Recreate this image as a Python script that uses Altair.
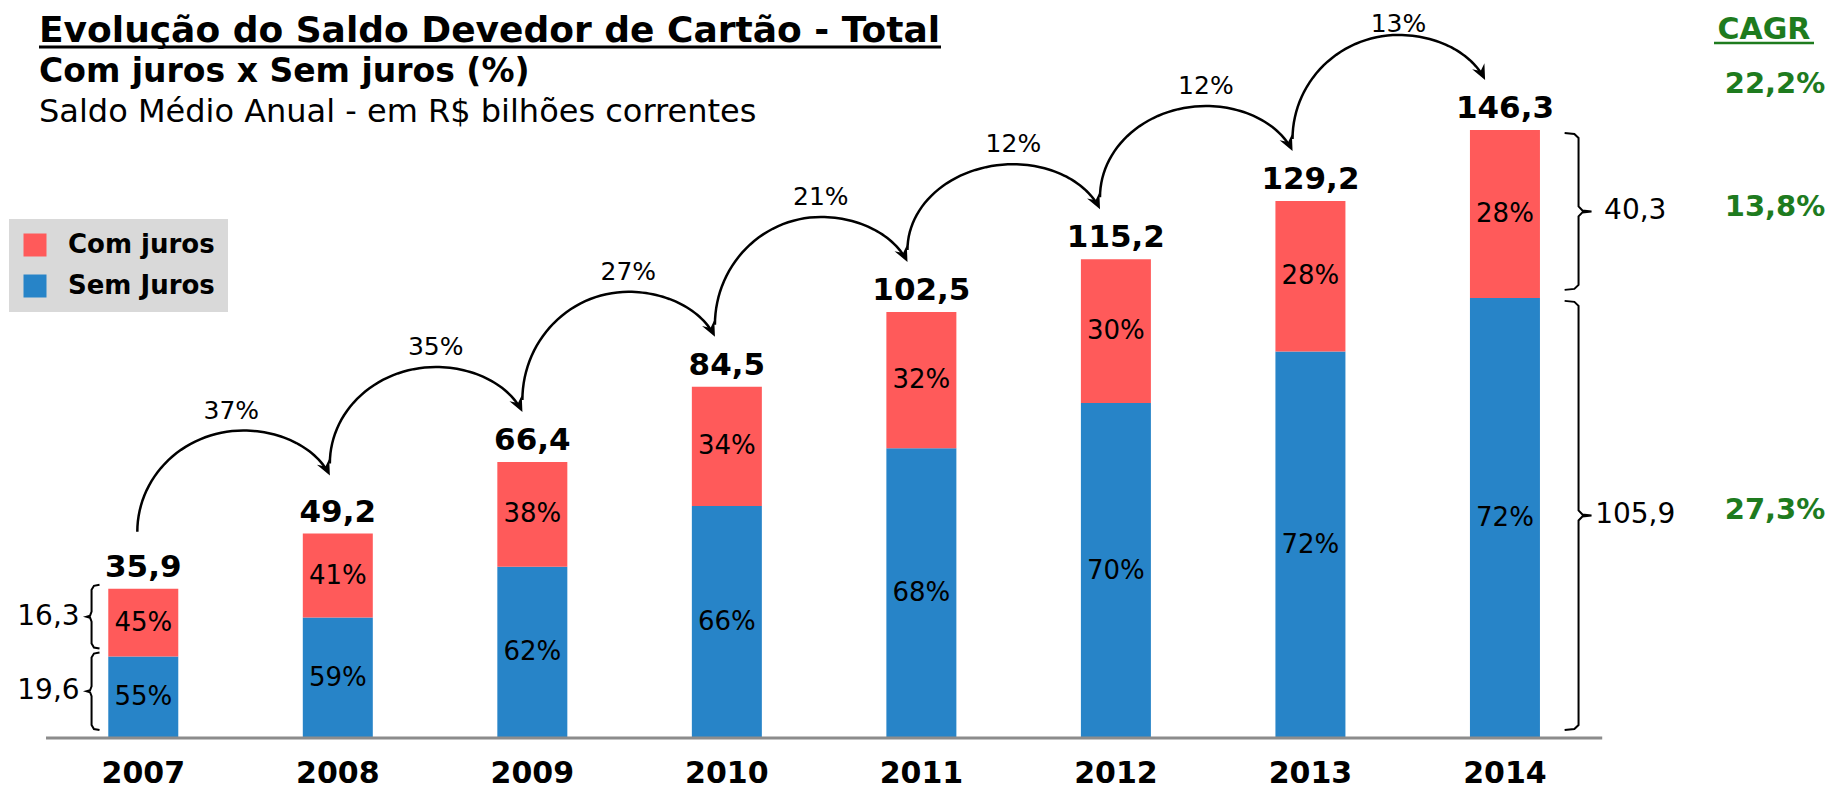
import math
import altair as alt
import pandas as pd

# ---------------- data ----------------
years = [2007, 2008, 2009, 2010, 2011, 2012, 2013, 2014]
totals = [35.9, 49.2, 66.4, 84.5, 102.5, 115.2, 129.2, 146.3]
total_labels = ["35,9", "49,2", "66,4", "84,5", "102,5", "115,2", "129,2", "146,3"]
sem_juros = [19.6, 29.0, 41.2, 55.8, 69.7, 80.6, 93.0, 105.9]
com_juros = [16.3, 20.2, 25.2, 28.7, 32.8, 34.6, 36.2, 40.4]
com_pct = [45, 41, 38, 34, 32, 30, 28, 28]
sem_pct = [55, 59, 62, 66, 68, 70, 72, 72]
growth = [37, 35, 27, 21, 12, 12, 13]
left_brace_labels = ["16,3", "19,6"]     # 2007: com juros, sem juros
right_brace_labels = ["40,3", "105,9"]   # 2014: com juros, sem juros
cagr_title = "CAGR"
cagr_labels = ["22,2%", "13,8%", "27,3%"]  # total, com juros, sem juros
series = ["Com juros", "Sem Juros"]

title = "Evolução do Saldo Devedor de Cartão - Total"
subtitle1 = "Com juros x Sem juros (%)"
subtitle2 = "Saldo Médio Anual - em R$ bilhões correntes"

RED = "#FF5A5A"
BLUE = "#2784C8"
GREEN = "#1E7B1E"
FONT = "DejaVu Sans"

# ---------------- layout (page pixels) ----------------
PAGE = 8
W, H = 1819, 783
X0_PX, DX_PX = 139.0, 195.6   # first bar centre, bar spacing
Y0_PX, DY_PX = 738.0, 4.156   # baseline, px per unit
XDOM = [years[0] + (PAGE - X0_PX) / DX_PX, years[0] + (PAGE + W - X0_PX) / DX_PX]
YDOM = [(Y0_PX - PAGE - H) / DY_PX, (Y0_PX - PAGE) / DY_PX]


def xp(v):
    return X0_PX + (v - years[0]) * DX_PX


def yp(v):
    return Y0_PX - v * DY_PX


def xv(px):
    return years[0] + (px - X0_PX) / DX_PX


def yv(py):
    return (Y0_PX - py) / DY_PX


XS = alt.Scale(domain=XDOM, nice=False, zero=False)
YS = alt.Scale(domain=YDOM, nice=False, zero=False)


def X(f):
    return alt.X(f, type="quantitative", scale=XS, axis=None)


def Y(f):
    return alt.Y(f, type="quantitative", scale=YS, axis=None)


# ---------------- bars ----------------
rows = []
for i, yr in enumerate(years):
    rows.append(dict(year=yr, serie="Sem Juros", lo=0.0, hi=sem_juros[i],
                     mid=sem_juros[i] / 2, pct=f"{sem_pct[i]}%"))
    rows.append(dict(year=yr, serie="Com juros", lo=sem_juros[i], hi=sem_juros[i] + com_juros[i],
                     mid=sem_juros[i] + com_juros[i] / 2, pct=f"{com_pct[i]}%"))
bars_df = pd.DataFrame(rows)

bars = alt.Chart(bars_df).mark_bar(size=70).encode(
    x=X("year"), y=Y("lo"), y2=alt.Y2("hi"),
    color=alt.Color("serie:N", scale=alt.Scale(domain=series, range=[RED, BLUE]),
                    legend=alt.Legend(title=None, orient="none", legendX=1, legendY=211,
                                      fillColor="#D9D9D9", padding=13, symbolType="square",
                                      symbolSize=529, symbolStrokeWidth=0, symbolOpacity=1,
                                      labelFont=FONT, labelFontSize=26, labelFontWeight="bold",
                                      labelColor="black", rowPadding=15, labelOffset=20,
                                      labelLimit=400)),
)

pct_text = alt.Chart(bars_df).mark_text(font=FONT, fontSize=26, color="black").encode(
    x=X("year"), y=Y("mid"), text="pct:N")

tot_df = pd.DataFrame(dict(year=years, total=totals, label=total_labels))
tot_text = alt.Chart(tot_df).mark_text(font=FONT, fontSize=31, fontWeight="bold", color="black",
                                       baseline="alphabetic", dy=-12).encode(
    x=X("year"), y=Y("total"), text="label:N")

year_text = alt.Chart(tot_df).mark_text(font=FONT, fontSize=30, fontWeight="bold", color="black",
                                        baseline="middle").encode(
    x=X("year"), y=alt.value(766), text=alt.Text("year:N"))

base_df = pd.DataFrame(dict(a=[years[0] - 0.5], b=[years[-1] + 0.5], z=[0.0]))
baseline = alt.Chart(base_df).mark_rule(color="#8C8C8C", strokeWidth=3).encode(
    x=X("a"), x2=alt.X2("b"), y=Y("z"))

# ---------------- growth arrows ----------------
S_END = math.radians(70)
HEAD_SIZE = 360
HEAD_PATH = "M0,1 L-0.72,-0.62 L0,-0.05 L0.72,-0.62 Z"
arc_pts, heads, glabels = [], [], []
prev_tip = None
for i, g in enumerate(growth):
    xa = xp(years[i]) - (6 + 2 * i)
    xb = xp(years[i + 1]) - (8 + 2 * i)
    tip_y = yp(totals[i + 1]) - (58 if i == 0 else 50)
    start_y = (yp(totals[i]) - 57) if i == 0 else prev_tip - 12
    prev_tip = tip_y
    peak_x = xa + 0.55 * (xb - xa)
    peak_y = tip_y - 45
    a1, b1 = peak_x - xa, start_y - peak_y
    a2 = (xb - peak_x) / math.sin(S_END)
    b2 = (tip_y - peak_y) / (1 - math.cos(S_END))
    k = 0
    for j in range(31):
        t = (math.pi / 2) * j / 30
        arc_pts.append(dict(arc=i, k=k, x=xv(peak_x - a1 * math.cos(t)), y=yv(start_y - b1 * math.sin(t))))
        k += 1
    for j in range(1, 31):
        s = (S_END - 0.07) * j / 30
        arc_pts.append(dict(arc=i, k=k, x=xv(peak_x + a2 * math.sin(s)), y=yv(peak_y + b2 * (1 - math.cos(s)))))
        k += 1
    dx, dy = a2 * math.cos(S_END), b2 * math.sin(S_END)
    n = math.hypot(dx, dy)
    ux, uy = dx / n, dy / n
    r = math.sqrt(HEAD_SIZE) / 2
    heads.append(dict(x=xv(xb - r * ux), y=yv(tip_y - r * uy),
                      ang=(math.degrees(math.atan2(uy, ux)) - 90) % 360))
    glabels.append(dict(x=xv(peak_x - (12 if i == 0 else 0)), y=yv(max(peak_y - 20, 24)), t=f"{g}%"))

arcs = alt.Chart(pd.DataFrame(arc_pts)).mark_line(color="black", strokeWidth=2.5).encode(
    x=X("x"), y=Y("y"), detail="arc:N", order="k:Q")
arrow_heads = alt.Chart(pd.DataFrame(heads)).mark_point(
    shape=HEAD_PATH, filled=True, size=HEAD_SIZE, color="black", opacity=1, strokeWidth=0).encode(
    x=X("x"), y=Y("y"), angle=alt.Angle("ang:Q", scale=None))
growth_text = alt.Chart(pd.DataFrame(glabels)).mark_text(font=FONT, fontSize=25, color="black").encode(
    x=X("x"), y=Y("y"), text="t:N")

# ---------------- braces ----------------
def brace(bid, xvert, top, bot, d, hook, tipl):
    mid = (top + bot) / 2
    hk, tp = -d * hook, d * tipl
    pts = [(xvert + hk, top), (xvert + hk * 0.3, top + 1), (xvert, top + 5), (xvert, mid - 5),
           (xvert + tp * 0.3, mid - 1), (xvert + tp, mid), (xvert + tp * 0.3, mid + 1),
           (xvert, mid + 5), (xvert, bot - 5), (xvert + hk * 0.3, bot - 1), (xvert + hk, bot)]
    return [dict(b=bid, k=k, x=xv(px), y=yv(py)) for k, (px, py) in enumerate(pts)], (xvert + tp, mid)


brace_pts, brace_lbl = [], []
# 2007 (left side)
segs_l = [(sem_juros[0], totals[0]), (0.0, sem_juros[0])]
for j, (lo, hi) in enumerate(segs_l):
    pts, (tx, ty) = brace(f"l{j}", xp(years[0]) - 52, yp(hi) - 4, yp(lo) - 8, -1, 8, 5)
    brace_pts += pts
    brace_lbl.append(dict(x=xv(tx - 7), y=yv(ty), t=left_brace_labels[j], side="l"))
# 2014 (right side)
segs_r = [(sem_juros[-1], totals[-1]), (0.0, sem_juros[-1])]
tips_r = []
for j, (lo, hi) in enumerate(segs_r):
    pts, (tx, ty) = brace(f"r{j}", xp(years[-1]) + 74, yp(hi) + 3, yp(lo) - 8, 1, 14, 13)
    brace_pts += pts
    tips_r.append(ty)
    brace_lbl.append(dict(x=xv(tx + 44), y=yv(ty), t=right_brace_labels[j], side="r"))

braces = alt.Chart(pd.DataFrame(brace_pts)).mark_line(color="black", strokeWidth=2).encode(
    x=X("x"), y=Y("y"), detail="b:N", order="k:Q")
bl_df = pd.DataFrame(brace_lbl)
brace_text_l = alt.Chart(bl_df[bl_df.side == "l"]).mark_text(
    font=FONT, fontSize=28, color="black", align="right").encode(x=X("x"), y=Y("y"), text="t:N")
brace_text_r = alt.Chart(bl_df[bl_df.side == "r"]).mark_text(
    font=FONT, fontSize=28, color="black", align="center").encode(x=X("x"), y=Y("y"), text="t:N")

# ---------------- CAGR column ----------------
cagr_df = pd.DataFrame(dict(t=cagr_labels, y=[yv(84), yv(tips_r[0] - 4), yv(tips_r[1] - 5)]))
cagr_text = alt.Chart(cagr_df).mark_text(font=FONT, fontSize=29, fontWeight="bold", color=GREEN).encode(
    x=alt.value(1767), y=Y("y"), text="t:N")
cagr_head = alt.Chart(pd.DataFrame(dict(t=[cagr_title]))).mark_text(
    font=FONT, fontSize=30, fontWeight="bold", color=GREEN, baseline="alphabetic").encode(
    x=alt.value(1756), y=alt.value(31), text="t:N")
cagr_ul = alt.Chart(pd.DataFrame(dict(t=[cagr_title]))).mark_rule(color=GREEN, strokeWidth=2.5).encode(
    x=alt.value(1706), x2=alt.value(1806), y=alt.value(35))

# ---------------- titles ----------------
t1 = alt.Chart(pd.DataFrame(dict(t=[title]))).mark_text(
    font=FONT, fontSize=36, fontWeight="bold", color="black", align="left", baseline="alphabetic").encode(
    x=alt.value(31), y=alt.value(34), text="t:N")
t1_ul = alt.Chart(pd.DataFrame(dict(t=[title]))).mark_rule(color="black", strokeWidth=3).encode(
    x=alt.value(31), x2=alt.value(933), y=alt.value(39))
t2 = alt.Chart(pd.DataFrame(dict(t=[subtitle1]))).mark_text(
    font=FONT, fontSize=33, fontWeight="bold", color="black", align="left", baseline="alphabetic").encode(
    x=alt.value(31), y=alt.value(74), text="t:N")
t3 = alt.Chart(pd.DataFrame(dict(t=[subtitle2]))).mark_text(
    font=FONT, fontSize=32, color="black", align="left", baseline="alphabetic").encode(
    x=alt.value(31), y=alt.value(114), text="t:N")

chart = alt.layer(
    bars, baseline, pct_text, tot_text, year_text, arcs, arrow_heads, growth_text,
    braces, brace_text_l, brace_text_r, cagr_text, cagr_head, cagr_ul, t1, t1_ul, t2, t3,
).properties(
    width=W, height=H, padding=0, autosize=alt.AutoSizeParams(type="none"), background="white"
).configure_view(stroke=None)

chart.save("out.html", embed_options={"renderer": "svg", "actions": False})
